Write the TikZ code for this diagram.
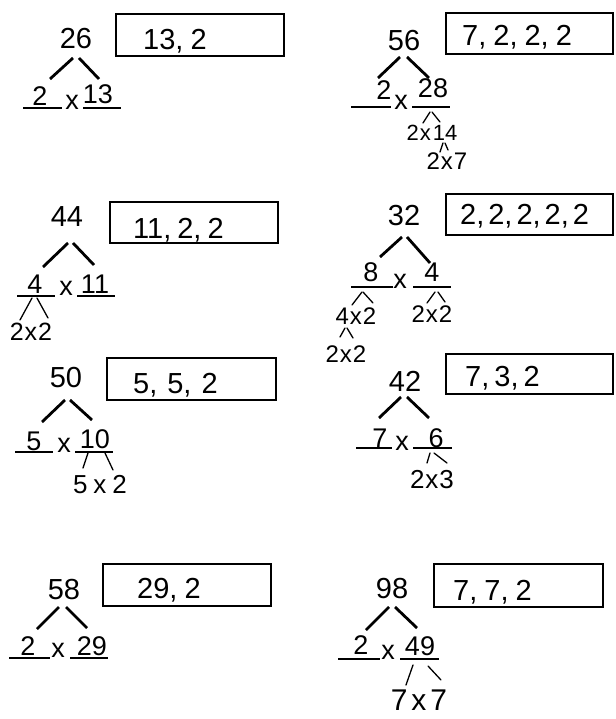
\documentclass[tikz,border=0pt]{standalone}
\usepackage{fontspec}
\setmainfont{Liberation Sans}
\tikzset{
 typed/.style={inner sep=0pt, font=\fontsize{29}{29}\selectfont},
 timesx/.style={inner sep=0pt, font=\fontsize{27}{27}\selectfont},
 hand/.style={inner sep=0pt, anchor=base, font=\fontsize{27}{27}\selectfont},
 boxtxt/.style={inner sep=0pt, anchor=base west, font=\fontsize{29}{29}\selectfont},
 small/.style={inner sep=0pt, anchor=base, font=\fontsize{#1}{#1}\selectfont},
 ansbox/.style={draw, line width=2.6pt, inner sep=0pt},
 branch/.style={line width=2.8pt},
 uline/.style={line width=1.6pt},
 twig/.style={line width=1.3pt, line cap=round},
}
\newcommand\gp[1]{\hspace{#1pt}}
\begin{document}
\begin{tikzpicture}[x=1pt,y=-1pt]
\useasboundingbox (0,0) rectangle (615,719);

% ---------- 26 ----------
\node[typed] (r26) at (76,39) {26};
\node[ansbox, minimum width=168pt, minimum height=42pt] (b26) at (200,35) {};
\node[boxtxt] (t26) at (143,50) {13,\gp{7}2};
\coordinate (r26l) at (73,58); \coordinate (e26l) at (50,79);
\coordinate (r26r) at (79,58); \coordinate (e26r) at (99,79);
\draw[branch] (r26l) -- (e26l); \draw[branch] (r26r) -- (e26r);
\node[hand] (f26a) at (40,106) {2};
\node[timesx] (x26) at (72,102) {x};
\node[hand] (f26b) at (98,104) {13};
\coordinate (u26a1) at (23,108); \coordinate (u26a2) at (62,108);
\coordinate (u26b1) at (83,108); \coordinate (u26b2) at (121,108);
\draw[uline] (u26a1) -- (u26a2); \draw[uline] (u26b1) -- (u26b2);

% ---------- 56 ----------
\node[typed] (r56) at (404,41) {56};
\node[ansbox, minimum width=167pt, minimum height=41pt] (b56) at (529.5,33.5) {};
\node[boxtxt] (t56) at (462,46) {7,\gp{7}2,\gp{7}2,\gp{7}2};
\coordinate (r56l) at (400,57); \coordinate (e56l) at (378,78);
\coordinate (r56r) at (407,57); \coordinate (e56r) at (429,78);
\draw[branch] (r56l) -- (e56l); \draw[branch] (r56r) -- (e56r);
\node[hand] (f56a) at (384,100) {2};
\node[timesx] (x56) at (401,102) {x};
\node[hand] (f56b) at (433,98) {28};
\coordinate (u56a1) at (351,107); \coordinate (u56a2) at (391,107);
\coordinate (u56b1) at (412,107); \coordinate (u56b2) at (450,107);
\draw[uline] (u56a1) -- (u56a2); \draw[uline] (u56b1) -- (u56b2);
\coordinate (w56a) at (430,112); \coordinate (w56b) at (423,123);
\coordinate (w56c) at (432,112); \coordinate (w56d) at (440,122);
\draw[twig] (w56a) -- (w56b); \draw[twig] (w56c) -- (w56d);
\node[small=22] (s56a) at (432,141) {2\gp{1}x\gp{2}14};
\coordinate (w56e) at (443,143); \coordinate (w56f) at (440,152);
\coordinate (w56g) at (445,143); \coordinate (w56h) at (448,150);
\draw[twig] (w56e) -- (w56f); \draw[twig] (w56g) -- (w56h);
\node[small=24] (s56b) at (447,170) {2\gp{1}x\gp{1}7};

% ---------- 44 ----------
\node[typed] (r44) at (67,217) {44};
\node[ansbox, minimum width=168pt, minimum height=41pt] (b44) at (194,222.5) {};
\node[boxtxt] (t44) at (133,238) {11,\gp{6}2,\gp{6}2};
\coordinate (r44l) at (68,243); \coordinate (e44l) at (43,267);
\coordinate (r44r) at (73,243); \coordinate (e44r) at (94,265);
\draw[branch] (r44l) -- (e44l); \draw[branch] (r44r) -- (e44r);
\node[hand] (f44a) at (35,293) {4};
\node[timesx] (x44) at (66,288) {x};
\node[hand] (f44b) at (95,293) {11};
\coordinate (u44a1) at (17,296); \coordinate (u44a2) at (55,296);
\coordinate (u44b1) at (77,296); \coordinate (u44b2) at (115,296);
\draw[uline] (u44a1) -- (u44a2); \draw[uline] (u44b1) -- (u44b2);
\coordinate (w44a) at (32,298); \coordinate (w44b) at (20,320);
\coordinate (w44c) at (37,298); \coordinate (w44d) at (48,318);
\draw[twig] (w44a) -- (w44b); \draw[twig] (w44c) -- (w44d);
\node[small=25] (s44) at (31,340) {2\gp{1}x\gp{1}2};

% ---------- 32 ----------
\node[typed] (r32) at (404,216) {32};
\node[ansbox, minimum width=167pt, minimum height=41pt] (b32) at (529.5,214.5) {};
\node[boxtxt] (t32) at (460,225) {2,\gp{4}2,\gp{4}2,\gp{4}2,\gp{4}2};
\coordinate (r32l) at (402,237); \coordinate (e32l) at (380,257);
\coordinate (r32r) at (407,237); \coordinate (e32r) at (430,263);
\draw[branch] (r32l) -- (e32l); \draw[branch] (r32r) -- (e32r);
\node[hand] (f32a) at (371,281) {8};
\node[timesx] (x32) at (400,281) {x};
\node[hand] (f32b) at (432,281) {4};
\coordinate (u32a1) at (351,287); \coordinate (u32a2) at (393,287);
\coordinate (u32b1) at (413,287); \coordinate (u32b2) at (451,287);
\draw[uline] (u32a1) -- (u32a2); \draw[uline] (u32b1) -- (u32b2);
\coordinate (w32a) at (362,292); \coordinate (w32b) at (352,305);
\coordinate (w32c) at (363,292); \coordinate (w32d) at (373,303);
\draw[twig] (w32a) -- (w32b); \draw[twig] (w32c) -- (w32d);
\coordinate (w32e) at (435,292); \coordinate (w32f) at (427,303);
\coordinate (w32g) at (438,292); \coordinate (w32h) at (445,302);
\draw[twig] (w32e) -- (w32f); \draw[twig] (w32g) -- (w32h);
\node[small=24] (s32a) at (356,324) {4\gp{1}x\gp{1}2};
\node[small=24] (s32b) at (432,322) {2\gp{1}x\gp{1}2};
\coordinate (w32i) at (345,328); \coordinate (w32j) at (340,337);
\coordinate (w32k) at (347,328); \coordinate (w32l) at (353,338);
\draw[twig] (w32i) -- (w32j); \draw[twig] (w32k) -- (w32l);
\node[small=24] (s32c) at (346,362) {2\gp{1}x\gp{1}2};

% ---------- 50 ----------
\node[typed] (r50) at (66,378) {50};
\node[ansbox, minimum width=169pt, minimum height=42pt] (b50) at (191.5,379) {};
\node[boxtxt] (t50) at (133,393) {5,\gp{10}5,\gp{10}2};
\coordinate (r50l) at (65,400); \coordinate (e50l) at (42,422);
\coordinate (r50r) at (70,400); \coordinate (e50r) at (92,420);
\draw[branch] (r50l) -- (e50l); \draw[branch] (r50r) -- (e50r);
\node[hand] (f50a) at (34,450) {5};
\node[timesx] (x50) at (64,445) {x};
\node[hand] (f50b) at (95,448) {10};
\coordinate (u50a1) at (15,452); \coordinate (u50a2) at (53,452);
\coordinate (u50b1) at (75,452); \coordinate (u50b2) at (113,452);
\draw[uline] (u50a1) -- (u50a2); \draw[uline] (u50b1) -- (u50b2);
\coordinate (w50a) at (88,453); \coordinate (w50b) at (83,468);
\coordinate (w50c) at (105,453); \coordinate (w50d) at (113,470);
\draw[twig] (w50a) -- (w50b); \draw[twig] (w50c) -- (w50d);
\node[small=26] (s50) at (100,493) {5\gp{6}x\gp{6}2};

% ---------- 42 ----------
\node[typed] (r42) at (405,381) {42};
\node[ansbox, minimum width=167pt, minimum height=40pt] (b42) at (529.5,374) {};
\node[boxtxt] (t42) at (465,386) {7,\gp{5}3,\gp{5}2};
\coordinate (r42l) at (401,397); \coordinate (e42l) at (379,418);
\coordinate (r42r) at (407,397); \coordinate (e42r) at (429,418);
\draw[branch] (r42l) -- (e42l); \draw[branch] (r42r) -- (e42r);
\node[hand] (f42a) at (380,447) {7};
\node[timesx] (x42) at (402,443) {x};
\node[hand] (f42b) at (436,447) {6};
\coordinate (u42a1) at (356,448); \coordinate (u42a2) at (392,448);
\coordinate (u42b1) at (413,448); \coordinate (u42b2) at (452,448);
\draw[uline] (u42a1) -- (u42a2); \draw[uline] (u42b1) -- (u42b2);
\coordinate (w42a) at (430,453); \coordinate (w42b) at (427,463);
\coordinate (w42c) at (434,453); \coordinate (w42d) at (447,463);
\draw[twig] (w42a) -- (w42b); \draw[twig] (w42c) -- (w42d);
\node[small=26] (s42) at (432,488) {2\gp{1}x\gp{1}3};

% ---------- 58 ----------
\node[typed] (r58) at (64,590) {58};
\node[ansbox, minimum width=168pt, minimum height=42pt] (b58) at (187,585) {};
\node[boxtxt] (t58) at (137,598) {29,\gp{7}2};
\coordinate (r58l) at (59,607); \coordinate (e58l) at (37,629);
\coordinate (r58r) at (66,607); \coordinate (e58r) at (87,628);
\draw[branch] (r58l) -- (e58l); \draw[branch] (r58r) -- (e58r);
\node[hand] (f58a) at (28,655) {2};
\node[timesx] (x58) at (58,650) {x};
\node[hand] (f58b) at (92,655) {29};
\coordinate (u58a1) at (9,658); \coordinate (u58a2) at (50,658);
\coordinate (u58b1) at (70,658); \coordinate (u58b2) at (108,658);
\draw[uline] (u58a1) -- (u58a2); \draw[uline] (u58b1) -- (u58b2);

% ---------- 98 ----------
\node[typed] (r98) at (392,589) {98};
\node[ansbox, minimum width=169pt, minimum height=43pt] (b98) at (518.5,585.5) {};
\node[boxtxt] (t98) at (453,600) {7,\gp{7}7,\gp{7}2};
\coordinate (r98l) at (389,607); \coordinate (e98l) at (366,630);
\coordinate (r98r) at (395,607); \coordinate (e98r) at (417,628);
\draw[branch] (r98l) -- (e98l); \draw[branch] (r98r) -- (e98r);
\node[hand] (f98a) at (361,654) {2};
\node[timesx] (x98) at (388,652) {x};
\node[hand] (f98b) at (420,655) {49};
\coordinate (u98a1) at (338,659); \coordinate (u98a2) at (380,659);
\coordinate (u98b1) at (400,659); \coordinate (u98b2) at (439,659);
\draw[uline] (u98a1) -- (u98a2); \draw[uline] (u98b1) -- (u98b2);
\coordinate (w98a) at (413,665); \coordinate (w98b) at (406,685);
\coordinate (w98c) at (428,666); \coordinate (w98d) at (441,680);
\draw[twig] (w98a) -- (w98b); \draw[twig] (w98c) -- (w98d);
\node[small=30] (s98) at (419,710) {7\gp{4}x\gp{4}7};
\end{tikzpicture}
\end{document}
